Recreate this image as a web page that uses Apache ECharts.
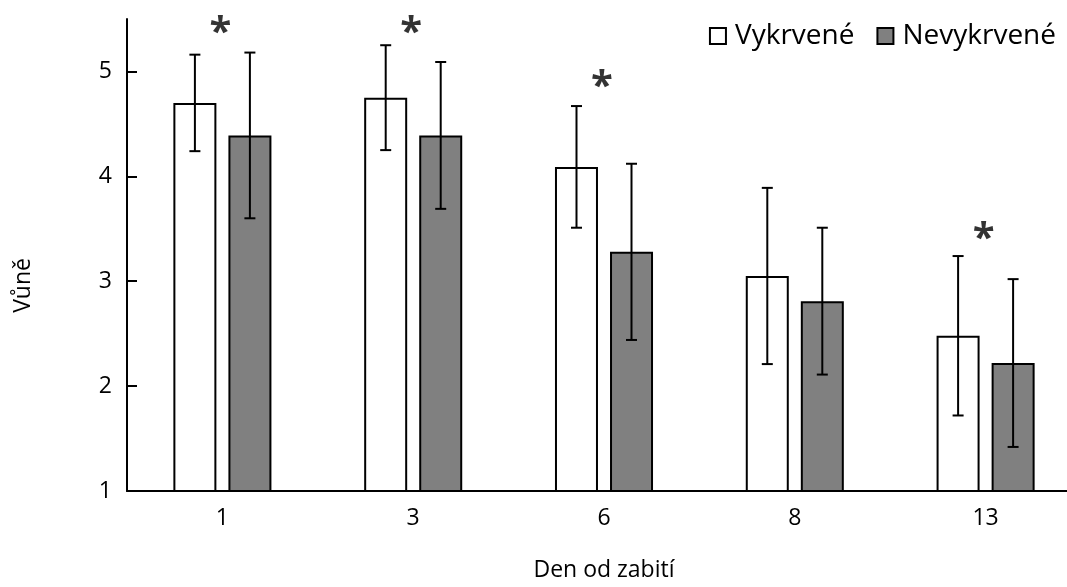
<!DOCTYPE html>
<html>
<head>
<meta charset="utf-8">
<script src="https://cdn.jsdelivr.net/npm/echarts@6/dist/echarts.min.js"></script>
<style>
  html, body { margin: 0; padding: 0; background: #fff; }
  #chart { width: 1067px; height: 587px; }
</style>
</head>
<body>
<div id="chart"></div>
<script>
// data
const days = ["1", "3", "6", "8", "13"];
const vykrvene = [4.7, 4.75, 4.09, 3.05, 2.48];
const vykrveneErr = [0.46, 0.5, 0.58, 0.84, 0.76];
const nevykrvene = [4.39, 4.39, 3.28, 2.81, 2.22];
const nevykrveneErr = [0.79, 0.7, 0.84, 0.7, 0.8];
// where the significance stars sit (null = none)
const stars = [5.47, 5.47, 4.95, null, 3.5];

const font = "Open Sans";

// error bars: half of (bar width + gap) to the side of the category centre
function errorBars(values, errs, side) {
  return {
    type: "custom",
    z: 10,
    silent: true,
    data: values.map((v, i) => [i, v - errs[i], v + errs[i]]),
    renderItem: function (params, api) {
      const lo = api.coord([api.value(0), api.value(1)]);
      const hi = api.coord([api.value(0), api.value(2)]);
      const x = lo[0] + side * 27.5;
      const cap = 5.5;
      const style = { stroke: "#000", lineWidth: 2 };
      return {
        type: "group",
        children: [
          { type: "line", shape: { x1: x, y1: hi[1], x2: x, y2: lo[1] }, style: style },
          { type: "line", shape: { x1: x - cap, y1: hi[1], x2: x + cap, y2: hi[1] }, style: style },
          { type: "line", shape: { x1: x - cap, y1: lo[1], x2: x + cap, y2: lo[1] }, style: style },
        ],
      };
    },
  };
}

const myChart = echarts.init(document.getElementById("chart"));
myChart.setOption({
  animation: false,
  textStyle: { fontFamily: font, color: "#000" },
  grid: {
    left: 127, width: 954, top: 19, bottom: 96,
    containLabel: false, outerBoundsMode: "none",
  },
  legend: {
    right: 6,
    top: 17,
    itemWidth: 16,
    itemHeight: 16,
    itemGap: 22,
    textStyle: { fontFamily: font, fontSize: 28, color: "#000", padding: [0, 0, 0, 4] },
    data: [
      { name: "Vykrvené", icon: "rect" },
      { name: "Nevykrvené", icon: "rect" },
    ],
  },
  xAxis: {
    type: "category",
    data: days,
    name: "Den od zabití",
    nameLocation: "middle",
    nameGap: 68,
    nameTextStyle: { fontFamily: font, fontSize: 23, color: "#000" },
    axisLine: { lineStyle: { color: "#000", width: 2 } },
    axisTick: { show: false },
    axisLabel: { fontFamily: font, fontSize: 23, color: "#000", margin: 16 },
  },
  yAxis: {
    type: "value",
    min: 1,
    max: 5.5,
    interval: 1,
    axisLine: { show: true, lineStyle: { color: "#000", width: 2 } },
    axisTick: { show: true, inside: true, length: 10, lineStyle: { color: "#000", width: 2 } },
    axisLabel: {
      fontFamily: font, fontSize: 23, color: "#000", margin: 15,
      showMaxLabel: false,
    },
    splitLine: { show: false },
  },
  graphic: [
    {
      type: "text",
      left: 12,
      top: 258,
      rotation: Math.PI / 2,
      style: { text: "Vůně", fontFamily: font, fontSize: 23, fill: "#000" },
    },
  ],
  series: [
    {
      name: "Vykrvené",
      type: "bar",
      data: vykrvene,
      barWidth: 43,
      barGap: "28%",
      itemStyle: { color: "#fff", borderColor: "#000", borderWidth: 2 },
    },
    {
      name: "Nevykrvené",
      type: "bar",
      data: nevykrvene,
      barWidth: 43,
      itemStyle: { color: "#808080", borderColor: "#000", borderWidth: 2 },
    },
    errorBars(vykrvene, vykrveneErr, -1),
    errorBars(nevykrvene, nevykrveneErr, 1),
    {
      type: "scatter",
      symbolSize: 0,
      silent: true,
      data: stars.map((v, i) => (v === null ? null : [i, v])),
      label: {
        show: true,
        position: "inside",
        formatter: "*",
        fontFamily: font,
        fontSize: 40,
        fontWeight: "bold",
        color: "#000",
        offset: [-2, 11],
      },
    },
  ],
});
</script>
</body>
</html>
